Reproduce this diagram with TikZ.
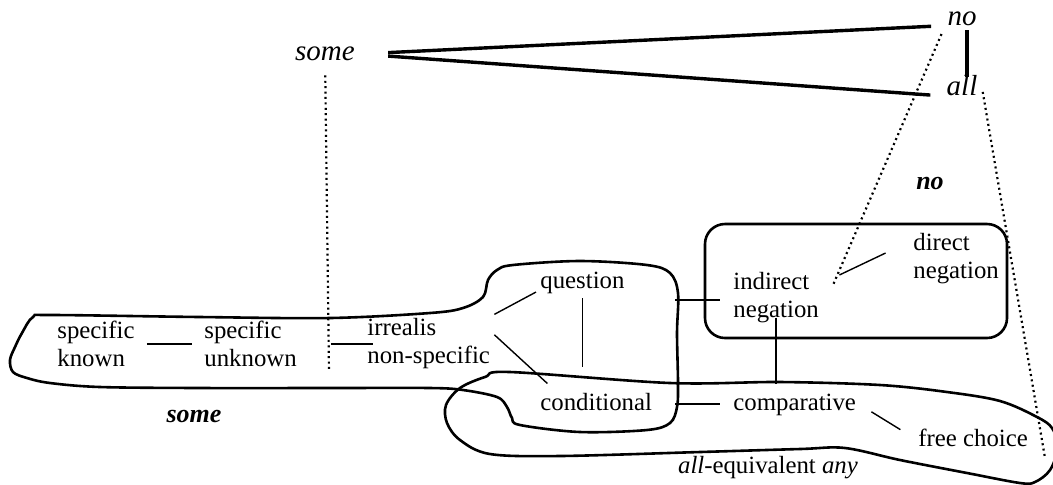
\documentclass[tikz,border=0pt]{standalone}
\usepackage{fontspec}
\setmainfont{Liberation Serif}

\begin{document}
\begin{tikzpicture}[
  x=0.5pt, y=-0.5pt,
  item/.style={align=left, inner sep=2pt, anchor=west, font=\fontsize{12.4}{14}\selectfont},
  quant/.style={inner sep=2pt, font=\fontsize{14.5}{16}\selectfont\itshape},
  domlbl/.style={inner sep=2pt, font=\fontsize{13}{15}\selectfont\bfseries\itshape},
  link/.style={line width=0.7pt},
  maplink/.style={line width=1.1pt, dash pattern=on 1pt off 1.7pt},
  fork/.style={line width=1.7pt},
  region/.style={line width=1.3pt}
  ]
  \path[clip] (0,0) rectangle (1053,484);
  % top quantifiers
  \node[quant] (tsome) at (325,54) {some};
  \node[quant] (tno) at (962,19) {no};
  \node[quant] (tall) at (962,86) {all};
  \draw[fork, shorten <=14.5pt, shorten >=6pt] (tsome.east) -- (tno.base west);
  \draw[fork, shorten <=14.5pt, shorten >=6pt] (tsome.east) -- (tall.base west);
  \draw[line width=2pt, shorten >=-3pt] ([xshift=2.5pt]tno.south) -- ([xshift=2.5pt]tall.north);
  % functions
  \node[item] (kn) at (53,344) {specific\\known};
  \node[item] (unk) at (200,344) {specific\\unknown};
  \node[item] (irr) at (363,344) {irrealis\\non-specific};
  \node[item] (q) at (536,283) {question};
  \node[item] (cond) at (536,402) {conditional};
  \node[item] (ind) at (729,298) {indirect\\negation};
  \node[item] (dir) at (909,259) {direct\\negation};
  \node[item] (comp) at (729,405) {comparative};
  \node[item] (fc) at (914,438) {free choice};
  \coordinate (qcgrp) at (675,300);
  \coordinate (cgrp) at (675,404);
  \draw[link, shorten <=4pt, shorten >=4pt] (kn) -- (unk);
  \draw[link, shorten <=15pt, shorten >=-5pt] (unk) -- (irr);
  \draw[link] (irr.north east) -- (q.191);
  \draw[link, shorten >=4pt] (irr.8) -- (cond.163);
  \draw[link, shorten >=11pt] (q.south) -- (q.south |- cond.north);
  \draw[link, shorten >=4.5pt] (qcgrp) -- (qcgrp -| ind.west);
  \draw[link, shorten >=4.5pt] (cgrp) -- (cgrp -| comp.west);
  \draw[link, shorten <=-5pt, shorten >=3pt] (ind.south) -- (ind.south |- comp.north);
  \draw[link, shorten <=6.5pt, shorten >=8pt] (comp.east) -- (fc.west);
  \draw[link, shorten <=9pt, shorten >=13pt] (ind.18) -- (dir.160);
  % regions
  \draw[region, rounded corners=10pt] (705,224) rectangle (1007,338);
  \draw[region] plot[smooth cycle, tension=0.55] coordinates {
    (52,315) (200,317) (330,318) (430,313) (463,308) (483,297) (488,280)
    (497,270) (513,265) (580,261) (647,265) (670,273) (678,293) (677,333)
    (678,383) (677,407) (670,423) (647,430) (580,432) (520,425) (512,418)
    (507,407) (497,397) (463,390) (430,388) (330,388) (200,388) (100,387)
    (50,383) (27,378) (13,372) (10,360) (15,347) (22,333) (33,317)};
  \draw[region] plot[smooth cycle, tension=0.55] coordinates {
    (510,372) (670,383) (780,382) (880,385) (947,392) (1000,401) (1037,417)
    (1052,428) (1058,447) (1050,470) (1035,482) (1020,483) (967,473)
    (900,460) (845,448) (800,449) (700,452) (560,456) (490,454) (460,440)
    (447,423) (446,405) (460,388) (485,377)};
  \node[domlbl] (somedom) at (194,416) {some};
  \node[domlbl] (nodom) at (930,183) {no};
  \node[item, anchor=center] (alldom) at (768,468) {\textit{all}-equivalent \textit{any}};
  % mappings
  \coordinate (somereg) at (329,372);
  \coordinate (noreg) at (833,285);
  \coordinate (allreg) at (1045,458);
  \draw[maplink, shorten <=5pt] (tsome) -- (somereg);
  \draw[maplink, shorten <=2pt] (tno.south west) -- (noreg);
  \draw[maplink, shorten <=3pt] (tall.east) -- (allreg);
\end{tikzpicture}
\end{document}
